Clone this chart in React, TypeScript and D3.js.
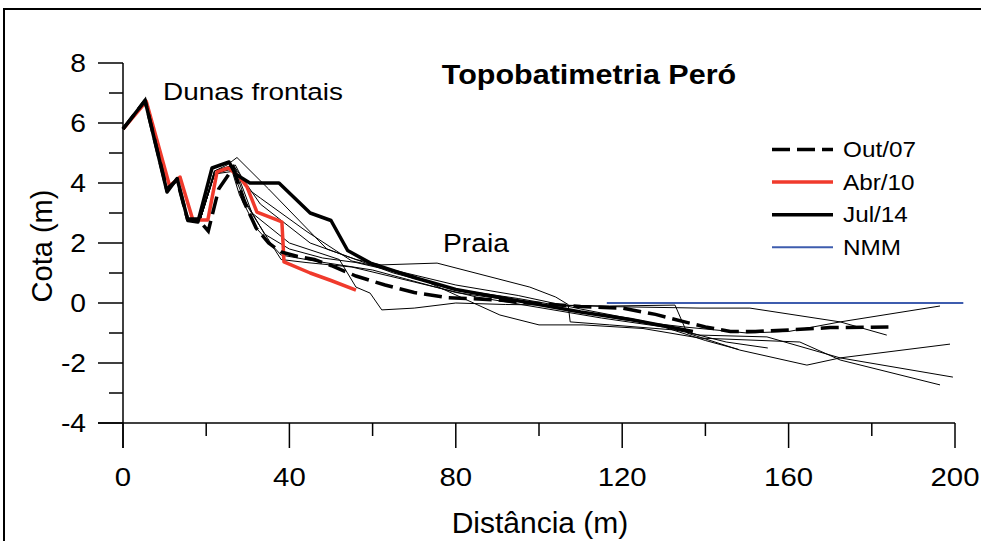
import React from "react";
import * as d3 from "d3";

type P = [number, number];

const xTicksMajor = [0, 40, 80, 120, 160, 200];
const xTicksMinor = [20, 60, 100, 140, 180];
const yTicksMajor = [-4, -2, 0, 2, 4, 6, 8];
const yTicksMinor = [-3, -1, 1, 3, 5, 7];

const out07: P[] = [[0,5.8],[5.3,6.75],[10.5,3.8],[13,4.1],[15.5,2.8],[18,2.8],[20.5,2.4],[23,3.8],[26.5,4.5],[29,3.4],[32,2.5],[35,2.0],[38,1.7],[42,1.55],[46,1.45],[50,1.25],[56,0.9],[63,0.6],[70,0.35],[78,0.18],[90,0.1],[100,-0.02],[110,-0.12],[120,-0.17],[128,-0.38],[135,-0.63],[140,-0.8],[146,-0.95],[152,-0.95],[160,-0.9],[170,-0.82],[184,-0.8]];
const abr10: P[] = [[0,5.8],[5.6,6.72],[11.2,3.9],[13.7,4.2],[16.8,2.77],[20.4,2.77],[22.6,4.37],[25.3,4.5],[28,4.2],[29.8,3.87],[32.2,3.03],[37,2.77],[38.2,2.7],[38.7,1.37],[45,1.0],[50,0.75],[56,0.43]];
const jul14: P[] = [[0,5.8],[5.3,6.75],[10.6,3.7],[13,4.15],[15.6,2.75],[18,2.7],[21.4,4.5],[25.5,4.7],[27,4.3],[30.5,4.0],[37.5,4.0],[45,3.0],[50,2.75],[54,1.75],[59.5,1.33],[70,0.85],[80,0.45],[90,0.2],[98,0.0],[110,-0.3],[122,-0.55],[137,-0.95]];
const nmm: P[] = [[116.3,0],[202,0]];

const perfilA: P[] = [[0,5.8],[5.3,6.75],[10.6,3.75],[13,4.15],[15.6,2.78],[18.5,2.8],[22,4.4],[25,4.6],[27.4,4.85],[35,3.8],[49,1.8],[56,1.45],[62,1.27],[75.5,1.33],[97.8,0.53],[104,0.2],[107,-0.05],[107.5,-0.63],[117,-0.73],[132.7,-0.9],[138.7,-1.07],[154.8,-1.13],[172.4,-1.83],[199.5,-2.47]];
const perfilB: P[] = [[0,5.8],[5.3,6.75],[10.6,3.75],[13,4.15],[15.6,2.78],[18.5,2.75],[22,4.3],[26,4.5],[29,3.5],[34,2.3],[40,1.8],[48,1.5],[56,1.35],[70,0.9],[90.6,-0.4],[100,-0.73],[110.6,-0.73],[125,-0.85],[138.7,-1.17],[162.7,-1.3],[172.4,-1.9],[196.4,-2.73]];
const perfilC: P[] = [[0,5.8],[5.3,6.75],[10.6,3.75],[13,4.15],[15.6,2.78],[18.5,2.75],[22,4.4],[26.5,4.6],[33,3.3],[45,2.0],[55,1.5],[65,1.0],[80,0.45],[95,0.15],[104,-0.07],[117,-0.1],[132.7,-0.07],[135.6,-1.0],[148.3,-1.57],[164.4,-2.07],[172.4,-1.83],[198.8,-1.37]];
const perfilD: P[] = [[0,5.8],[5.3,6.75],[10.6,3.75],[13,4.15],[15.6,2.78],[18.5,2.75],[22,4.3],[27,4.5],[31,3.0],[40,2.0],[52,1.45],[56,0.53],[59.4,0.33],[62.2,-0.23],[70,-0.17],[80,0.0],[92,-0.05],[104,-0.07],[117,-0.12],[138.7,-0.17],[150.7,-0.17],[172.4,-0.63],[183.6,-1.07]];
const perfilE: P[] = [[0,5.8],[5.3,6.75],[10.6,3.75],[13,4.15],[15.6,2.78],[18.5,2.75],[22,4.3],[26,4.5],[28,3.6],[32,2.5],[38,1.6],[46,1.4],[60,1.1],[80,0.35],[98,0.0],[110,-0.3],[120,-0.55],[135,-0.8],[150,-1.0],[160,-0.95],[172.4,-0.63],[196.4,-0.1]];
const perfilF: P[] = [[0,5.8],[5.3,6.75],[10.6,3.75],[13,4.15],[15.6,2.78],[18.5,2.75],[22,4.4],[27,4.6],[30,3.8],[33,3.5],[44,2.4],[55,1.4],[65,1.1],[80,0.6],[95,0.25],[110,-0.2],[125,-0.6],[135,-0.95],[145,-1.3],[155,-1.5]];
const perfilG: P[] = [[0,5.8],[5.3,6.75],[10.6,3.75],[13,4.15],[15.6,2.78],[18.5,2.75],[22,4.3],[27,4.4],[30,3.2],[38,1.45],[44,1.35],[55,1.2],[70,0.7],[85,0.2],[100,-0.15],[115,-0.5],[130,-0.8],[140,-1.25],[148,-1.55]];

const thinProfiles = [perfilA, perfilB, perfilC, perfilD, perfilE, perfilF, perfilG];

const legendItems = [
  { label: "Out/07", color: "#000", width: 3.5, dash: "18,7" },
  { label: "Abr/10", color: "#f03a2c", width: 3.5, dash: "" },
  { label: "Jul/14", color: "#000", width: 3.5, dash: "" },
  { label: "NMM", color: "#3e5cae", width: 2, dash: "" },
];

const SX = 1.13;
const FONT = "Arial, 'Liberation Sans', sans-serif";

function T({ x, y, size, anchor = "start", bold = false, children }: any) {
  return (
    <text
      transform={`translate(${x},${y}) scale(${SX},1)`}
      fontFamily={FONT}
      fontSize={size}
      fontWeight={bold ? "bold" : "normal"}
      textAnchor={anchor}
      fill="#000"
    >
      {children}
    </text>
  );
}

export default function App() {
  const xs = d3.scaleLinear().domain([0, 200]).range([123, 955]);
  const ys = d3.scaleLinear().domain([-4, 8]).range([423, 63]);
  const line = d3
    .line<P>()
    .x((d) => xs(d[0]))
    .y((d) => ys(d[1]));

  return (
    <svg
      width={981}
      height={541}
      style={{ position: "absolute", left: 0, top: 0, background: "#fff" }}
    >
      <rect x={0} y={0} width={981} height={541} fill="#fff" />
      <rect x={4} y={9} width={1000} height={600} fill="none" stroke="#000" strokeWidth={2} />

      {/* thin profiles */}
      {thinProfiles.map((p, i) => (
        <path key={i} d={line(p) || ""} fill="none" stroke="#000" strokeWidth={1} />
      ))}
      {/* NMM */}
      <path d={line(nmm) || ""} fill="none" stroke="#3e5cae" strokeWidth={2} />
      {/* Abr/10 */}
      <path d={line(abr10) || ""} fill="none" stroke="#f03a2c" strokeWidth={3.5} strokeLinejoin="round" />
      {/* Out/07 */}
      <path d={line(out07) || ""} fill="none" stroke="#000" strokeWidth={3.5} strokeDasharray="18,7" />
      {/* Jul/14 */}
      <path d={line(jul14) || ""} fill="none" stroke="#000" strokeWidth={3.5} strokeLinejoin="round" />

      {/* axes */}
      <line x1={xs(0)} x2={xs(0)} y1={ys(8)} y2={448} stroke="#000" strokeWidth={1.5} />
      <line x1={98} x2={xs(200)} y1={ys(-4)} y2={ys(-4)} stroke="#000" strokeWidth={1.5} />
      {yTicksMajor.map((t) => (
        <g key={"ym" + t}>
          <line x1={98} x2={xs(0)} y1={ys(t)} y2={ys(t)} stroke="#000" strokeWidth={1.5} />
          <T x={86} y={ys(t) + 9} size={25} anchor="end">{t}</T>
        </g>
      ))}
      {yTicksMinor.map((t) => (
        <line key={"yn" + t} x1={109} x2={xs(0)} y1={ys(t)} y2={ys(t)} stroke="#000" strokeWidth={1.5} />
      ))}
      {xTicksMajor.map((t) => (
        <g key={"xm" + t}>
          <line x1={xs(t)} x2={xs(t)} y1={ys(-4)} y2={448} stroke="#000" strokeWidth={1.5} />
          <T x={xs(t)} y={486} size={26} anchor="middle">{t}</T>
        </g>
      ))}
      {xTicksMinor.map((t) => (
        <line key={"xn" + t} x1={xs(t)} x2={xs(t)} y1={ys(-4)} y2={436} stroke="#000" strokeWidth={1.5} />
      ))}

      {/* axis titles */}
      <text x={540} y={533} fontFamily={FONT} fontSize={30} textAnchor="middle">Distância (m)</text>
      <text transform={`translate(52,246) rotate(-90)`} fontFamily={FONT} fontSize={29} textAnchor="middle">Cota (m)</text>

      {/* annotations */}
      <T x={589} y={84} size={27} anchor="middle" bold>Topobatimetria Peró</T>
      <T x={163} y={100} size={24.7}>Dunas frontais</T>
      <T x={443} y={252} size={25}>Praia</T>

      {/* legend */}
      {legendItems.map((it, i) => {
        const cy = 149.5 + i * 32.6;
        return (
          <g key={it.label}>
            <line x1={772} x2={833} y1={cy} y2={cy} stroke={it.color} strokeWidth={it.width} strokeDasharray={it.dash || undefined} />
            <T x={843} y={cy + 7.5} size={21.5}>{it.label}</T>
          </g>
        );
      })}
    </svg>
  );
}
